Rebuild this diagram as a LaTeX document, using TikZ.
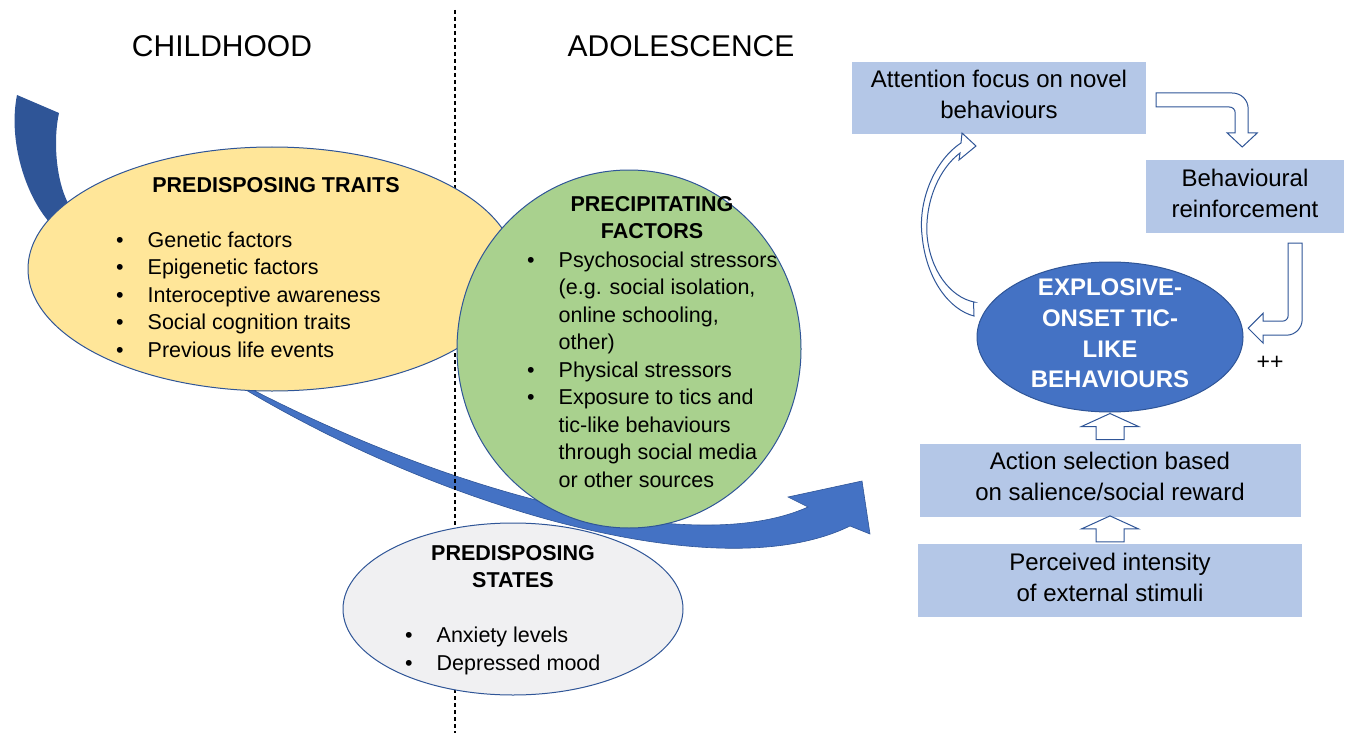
\documentclass[tikz,border=0pt]{standalone}
\usepackage{fontspec}
\setmainfont{Liberation Sans}
\usetikzlibrary{positioning,shapes.geometric}

\definecolor{traitfill}{HTML}{FFE699}
\definecolor{factorfill}{HTML}{A9D18E}
\definecolor{statefill}{HTML}{F0F0F2}
\definecolor{boxfill}{HTML}{B4C7E7}
\definecolor{ticfill}{HTML}{4472C4}
\definecolor{edgeblue}{HTML}{2F5597}

\newcommand{\bul}{\makebox[31.5pt][l]{\textbullet}}
\newcommand{\indentitem}{\hspace*{31.5pt}}
% hollow block arrow pointing up, drawn from the middle of its base
\newcommand{\upblock}[1]{%
	\draw[hollow] (#1) ++(-14,0) -- ++(0,-13) -- ++(-14.5,0) -- ++(28.5,-13)
		-- ++(28.5,13) -- ++(-14.5,0) -- ++(0,13) -- cycle;}

\begin{document}
\begin{tikzpicture}[%
		x=1pt,
		y=-1pt,
		oval/.style={%
			ellipse,
			draw=edgeblue,
			line width=1pt,
			inner sep=0pt
		},
		headtext/.style={%
			align=center,
			inner sep=0pt,
			font={\bfseries\fontsize{21.5}{27}\selectfont}
		},
		listtext/.style={%
			align=left,
			inner sep=0pt,
			font={\fontsize{21.5}{27.5}\selectfont}
		},
		flowbox/.style={%
			fill=boxfill,
			align=center,
			inner sep=0pt,
			text depth=7pt,
			font={\fontsize{24}{31}\selectfont}
		},
		hollow/.style={%
			draw=edgeblue,
			fill=white,
			line width=1pt
		},
		agetitle/.style={%
			anchor=base,
			font={\fontsize{30}{30}\selectfont}
		}
		]
		\useasboundingbox (0,0) rectangle (1349,733);
		
		% big arrow: back part, then front part
		\fill[edgeblue] (17,95) .. controls (8,140) and (25,195) .. (50,223) -- (100,280) -- (120,255)
			-- (68,203) .. controls (56,180) and (53,140) .. (59,113) -- cycle;
		\filldraw[fill=ticfill, draw=edgeblue, line width=0.6pt] (230,378) .. controls (440,490) and (690,560) .. (808,507)
			-- (788,497) -- (862,481) -- (870,534) -- (850,526)
			.. controls (720,590) and (440,508) .. (236,384) -- cycle;
		
		\draw[dash pattern=on 4pt off 3pt, line width=1.8pt] (455,10) -- (455,733);
		
		\node[agetitle] (child) at (222,57) {CHILDHOOD};
		\node[agetitle] (adol)  at (681,57) {ADOLESCENCE};
		
		\node[oval, fill=traitfill, minimum width=488, minimum height=244] (traits) at (272,269) {};
		\node[headtext, anchor=base] (traitshead) at (276,192) {PREDISPOSING TRAITS};
		\node[listtext, anchor=base west] (traitslist) at (116,357) {\bul Genetic factors\\
			\bul Epigenetic factors\\
			\bul Interoceptive awareness\\
			\bul Social cognition traits\\
			\bul Previous life events};
		
		\node[oval, fill=factorfill, minimum width=344, minimum height=358] (factors) at (629,349) {};
		\node[headtext, anchor=base] (factorshead) at (652,238) {PRECIPITATING\\FACTORS};
		\node[listtext, anchor=base west] (factorslist) at (527,487) {\bul Psychosocial stressors\\
			\indentitem (e.g. social isolation,\\
			\indentitem online schooling,\\
			\indentitem other)\\
			\bul Physical stressors\\
			\bul Exposure to tics and\\
			\indentitem tic-like behaviours\\
			\indentitem through social media\\
			\indentitem or other sources};
		
		\node[oval, fill=statefill, minimum width=340, minimum height=172] (states) at (513,609) {};
		\node[headtext, anchor=base] (stateshead) at (513,587) {PREDISPOSING\\STATES};
		\node[listtext, anchor=base west] (stateslist) at (405,670) {\bul Anxiety levels\\
			\bul Depressed mood};
		
		% loop on the right
		\node[flowbox, minimum width=294, minimum height=72] (att)   at (999,98)    {Attention focus on novel\\behaviours};
		\node[flowbox, minimum width=198, minimum height=73] (reinf) at (1245,196.5) {Behavioural\\reinforcement};
		\node[oval, fill=ticfill, minimum width=266, minimum height=150] (tic) at (1110,337) {};
		\node[align=center, inner sep=0pt, text=white, font={\bfseries\fontsize{24}{30.7}\selectfont}] (tictext)
			at ([yshift=3.5pt]tic.center) {EXPLOSIVE-\\ONSET TIC-\\LIKE\\BEHAVIOURS};
		\node[flowbox, minimum width=381, minimum height=73] (act)  [below=31pt of tic] {Action selection based\\on salience/social reward};
		\node[flowbox, minimum width=384, minimum height=73] (perc) [below=27pt of act] {Perceived intensity\\of external stimuli};
		\node[font={\fontsize{23}{23}\selectfont}, anchor=base] (plus) at (1270,369) {++};
		
		\upblock{[yshift=4pt]act.north}
		\upblock{[yshift=2pt]perc.north}
		
		\draw[hollow] ([xshift=10pt,yshift=5pt]att.east) -- ++(76,0) .. controls +(9,0) and +(0,-9) .. ++(16,16)
			-- ++(0,24) -- ++(9,0) -- ++(-15,14) -- ++(-15,-14) -- ++(8,0) -- ++(0,-20)
			.. controls +(0,-3.5) and +(3.5,0) .. ++(-6,-6) -- ++(-73,0) -- cycle;
		\draw[hollow] ([xshift=-56pt,yshift=-10pt]reinf.south east) -- ++(14,0) -- ++(0,76) .. controls +(0,9) and +(9,0) .. ++(-16,16)
			-- ++(-23,0) -- ++(0,8) -- ++(-15,-15) -- ++(15,-15) -- ++(0,8) -- ++(19,0)
			.. controls +(3.5,0) and +(0,3.5) .. ++(6,-6) -- ++(0,-72) -- cycle;
		\draw[hollow] ([xshift=-3pt,yshift=35pt]tic.west) -- (974,316) .. controls (950,310) and (926,280) .. (922,235)
			.. controls (918,200) and (935,160) .. (961,143) -- (962,133) -- (976,146) -- (959,160) -- (960,153)
			.. controls (940,168) and (925,200) .. (927,235) .. controls (930,270) and (950,297) .. (974,302) -- cycle;
		\end{tikzpicture}
\end{document}
